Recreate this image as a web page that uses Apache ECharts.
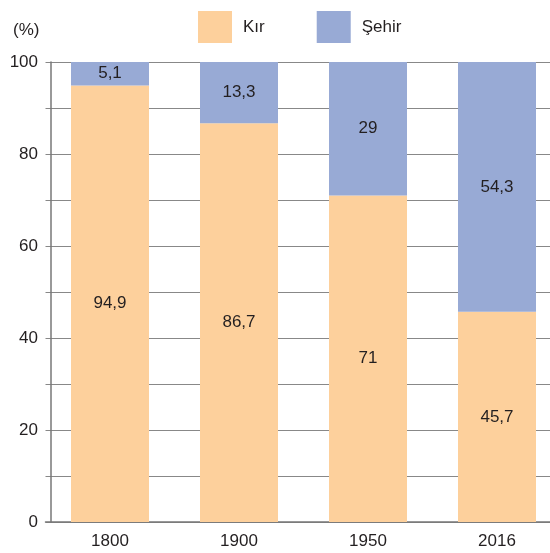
<!DOCTYPE html>
<html>
<head>
<meta charset="utf-8">
<script src="https://cdn.jsdelivr.net/npm/echarts@6/dist/echarts.min.js"></script>
<style>
html,body{margin:0;padding:0;background:#fff;}
#c{width:550px;height:553px;}
</style>
</head>
<body>
<div id="c"></div>
<script>
var categories = ['1800', '1900', '1950', '2016'];
var kir = [94.9, 86.7, 71, 45.7];
var sehir = [5.1, 13.3, 29, 54.3];
var seriesNames = ['Kır', 'Şehir'];
var yTicks = [0, 20, 40, 60, 80, 100];

var FONT = '"Liberation Sans", Arial, Helvetica, sans-serif';
var TXT = '#231f20';
function fmt(v){ return String(v).replace('.', ','); }

var chart = echarts.init(document.getElementById('c'), null, {renderer:'canvas'});
chart.setOption({
  animation: false,
  backgroundColor: '#fff',
  textStyle: {fontFamily: FONT},
  title: {
    text: '(%)', left: 8, top: 17,
    textStyle: {fontFamily: FONT, fontSize: 17, fontWeight: 'normal', color: TXT}
  },
  legend: {
    top: 6, left: 193,
    itemWidth: 34, itemHeight: 32, itemGap: 52,
    icon: 'rect',
    data: seriesNames,
    textStyle: {fontFamily: FONT, fontSize: 17, color: TXT, padding: [0,0,0,6]}
  },
  grid: {left: 45.5, width: 516, top: 62, bottom: 31, containLabel: false, outerBoundsMode: 'none'},
  xAxis: {
    type: 'category',
    data: categories,
    axisLine: {show: true, lineStyle: {color: '#777', width: 1.5}},
    axisTick: {show: false},
    axisLabel: {fontFamily: FONT, fontSize: 17, color: TXT, margin: 11}
  },
  yAxis: {
    type: 'value',
    min: 0, max: 100, interval: 10,
    offset: -5.5,
    axisLine: {show: true, lineStyle: {color: '#777', width: 1.5}},
    axisTick: {show: false},
    splitLine: {show: true, lineStyle: {color: '#888', width: 1}},
    axisLabel: {
      fontFamily: FONT, fontSize: 17, color: TXT, margin: 13,
      formatter: function(v){ return yTicks.indexOf(v) >= 0 ? String(v) : ''; }
    }
  },
  series: [
    {
      name: seriesNames[0], type: 'bar', stack: 'a', barWidth: 78,
      data: kir,
      itemStyle: {color: '#fdd09c'},
      label: {show: true, position: 'inside', fontFamily: FONT, fontSize: 17, color: TXT,
        formatter: function(p){ return fmt(p.value); }}
    },
    {
      name: seriesNames[1], type: 'bar', stack: 'a', barWidth: 78,
      data: sehir,
      itemStyle: {color: '#98aad5'},
      label: {show: true, position: 'inside', fontFamily: FONT, fontSize: 17, color: TXT,
        formatter: function(p){ return fmt(p.value); }}
    }
  ]
});
</script>
</body>
</html>
